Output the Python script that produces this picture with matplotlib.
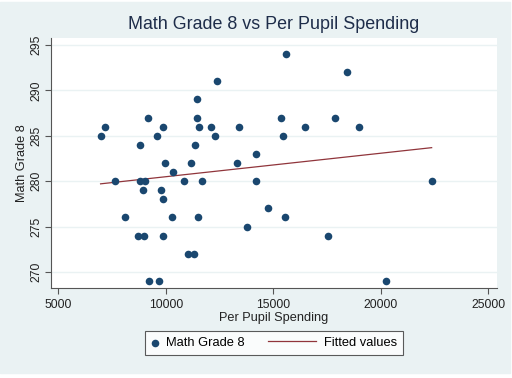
import numpy as np
import matplotlib
matplotlib.use("Agg")
import matplotlib.pyplot as plt
from matplotlib.patches import Rectangle
from matplotlib.legend_handler import HandlerPathCollection

plt.rcParams['font.family'] = ['Liberation Sans', 'DejaVu Sans']

# Per pupil spending ($) and math grade 8 score, one point per state
spending = [12390, 11440, 9180, 11440, 7180, 9860, 11550, 12110, 13380, 6960,
            9580, 12290, 8790, 11350, 14190, 9970, 11150, 13290, 10330, 7630,
            8790, 9040, 10850, 11670, 14200, 8930, 9770, 9870, 8110, 10270,
            11500, 13750, 8700, 8980, 9860, 11020, 11290, 9220, 9690, 15590,
            18420, 15350, 17870, 16450, 18960, 15430, 22360, 14740, 15550, 17520,
            20220]
math8 = [291, 289, 287, 287, 286, 286, 286, 286, 286, 285,
         285, 285, 284, 284, 283, 282, 282, 282, 281, 280,
         280, 280, 280, 280, 280, 279, 279, 278, 276, 276,
         276, 275, 274, 274, 274, 272, 272, 269, 269, 294,
         292, 287, 287, 286, 286, 285, 280, 277, 276, 274,
         269]

x_ticks = [5000, 10000, 15000, 20000, 25000]
y_ticks = [270, 275, 280, 285, 290, 295]

bg = "#eaf2f3"
navy = "#1a476f"
maroon = "#90353b"
txt = "#222222"


# legend dot sits at the left of its (narrowed) handle box, like Stata
class LeftDot(HandlerPathCollection):
    def get_xdata(self, legend, xdescent, ydescent, width, height, fontsize):
        return [-xdescent, -xdescent + width], [-xdescent + 0.3 * fontsize]


fig = plt.figure(figsize=(5.12, 3.78), dpi=100)
fig.patch.set_facecolor("white")
fig.patches.append(Rectangle((0, 5 / 378), 510 / 512, 371 / 378,
                             transform=fig.transFigure, color=bg, zorder=-10))

ax = fig.add_axes([50.7 / 512, (378 - 288.3) / 378, 446.3 / 512, 250.6 / 378])
ax.set_facecolor("white")

x = np.array(spending)
y = np.array(math8)
b, a = np.polyfit(x, y, 1)
xs = np.array([x.min(), x.max()])

sc = ax.scatter(x, y, s=30, color=navy, zorder=3, label="Math Grade 8", linewidths=0)
ax.plot(xs, a + b * xs, color=maroon, lw=0.9, zorder=2, label="Fitted values")

ax.set_xlim(4640, 25400)
ax.set_ylim(268.2, 295.8)
ax.set_xticks(x_ticks)
ax.set_yticks(y_ticks)
ax.set_yticklabels([str(t) for t in y_ticks], rotation=90, va="center")
ax.grid(axis="y", color=bg, lw=1)
ax.set_axisbelow(True)
for s in ["top", "right"]:
    ax.spines[s].set_visible(False)
for s in ["left", "bottom"]:
    ax.spines[s].set_color("#555555")
    ax.spines[s].set_linewidth(0.8)
ax.tick_params(colors="#555555", labelcolor=txt, labelsize=8.8, length=4, width=0.8)
ax.tick_params(axis="y", pad=2)

ax.set_xlabel("Per Pupil Spending", fontsize=9.2, color=txt, labelpad=1)
ax.set_ylabel("Math Grade 8", fontsize=9.2, color=txt, labelpad=2)
ax.set_title("Math Grade 8 vs Per Pupil Spending", fontsize=12.9, color="#1e2d4a", pad=6)

leg = ax.legend(loc="center", bbox_to_anchor=(0.5, -0.218), ncol=2, frameon=True,
                fancybox=False, fontsize=9.3, handlelength=3.7, columnspacing=1.8,
                borderpad=0.45, handletextpad=0.6, scatterpoints=1,
                handler_map={sc: LeftDot()})
leg.get_frame().set_edgecolor("#333333")
leg.get_frame().set_linewidth(0.8)
# narrow the dot's handle box so its label follows closely
first = leg._legend_handle_box.get_children()[0].get_children()[0]
first.get_children()[0].width = 0.6 * 9.3

fig.savefig("out.png", dpi=100)
